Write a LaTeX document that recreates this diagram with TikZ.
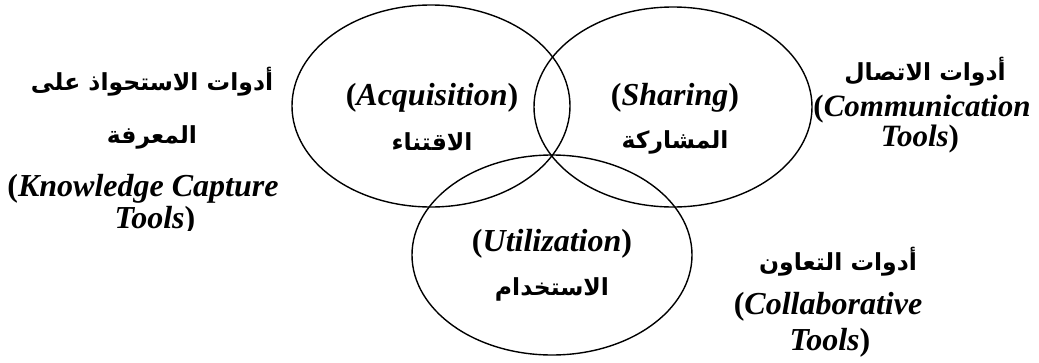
\documentclass[tikz,border=0pt]{standalone}
\usepackage{fontspec}
\setmainfont{Liberation Serif}
\newfontfamily\arabicfont[Script=Arabic]{DejaVu Sans}
\TeXXeTstate=1
\usetikzlibrary{shapes.geometric}
\tikzset{
  venn/.style={ellipse, draw=black, line width=1.4pt, inner sep=0pt},
  en/.style={font=\fontsize{32}{34}\selectfont\bfseries, inner sep=0pt, text=black},
  ar/.style={font=\fontsize{23.5}{27}\selectfont\arabicfont\bfseries, inner sep=0pt, text=black}
}
\begin{document}
\begin{tikzpicture}[x=1pt,y=-1pt]
\useasboundingbox (0,0) rectangle (1039,362);
\fill[white] (0,0) rectangle (1039,362);
% ellipses
\node[venn, minimum width=278pt, minimum height=202pt] (acq) at (431,106) {};
\node[venn, minimum width=278pt, minimum height=200pt] (sha) at (673,107) {};
\node[venn, minimum width=280pt, minimum height=200pt] (uti) at (552,255) {};
% inner labels
\node[en] (acqE) at (432,98) {(\textit{Acquisition})};
\node[ar] (acqA) at (432,142) {\beginR الاقتناء\endR};
\node[en] (shaE) at (675,98) {(\textit{Sharing})};
\node[ar] (shaA) at (675,142) {\beginR المشاركة\endR};
\node[en] (utiE) at (552,244) {(\textit{Utilization})};
\node[ar] (utiA) at (552,289) {\beginR الاستخدام\endR};
% left label
\node[ar] (kc1) at (152,82) {\beginR أدوات الاستحواذ على\endR};
\node[ar] (kc2) at (152,137) {\beginR المعرفة\endR};
\node[en] (kc3) at (143,189) {(\textit{Knowledge Capture}};
\begin{scope}
\clip (0,0) rectangle (300,230);
\node[en] (kc4) at (155,221) {\textit{Tools})};
\end{scope}
% right top label
\node[ar] (cm1) at (925,72) {\beginR أدوات الاتصال\endR};
\node[en, font=\fontsize{31}{33}\selectfont\bfseries] (cm2) at (922,109) {(\textit{Communication}};
\node[en, font=\fontsize{31}{33}\selectfont\bfseries] (cm3) at (920,139) {\textit{Tools})};
% bottom right label
\node[ar] (cl1) at (838,262) {\beginR أدوات التعاون\endR};
\node[en] (cl2) at (828,307) {(\textit{Collaborative}};
\node[en] (cl3) at (830,343) {\textit{Tools})};
\end{tikzpicture}
\end{document}
